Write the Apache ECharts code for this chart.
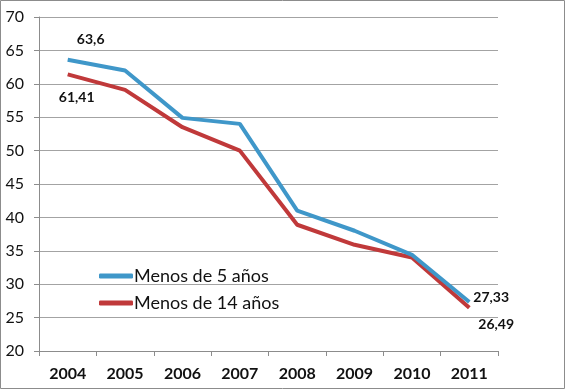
<!DOCTYPE html>
<html><head><meta charset="utf-8">
<script src="https://cdn.jsdelivr.net/npm/echarts@6/dist/echarts.min.js"></script>
<style>html,body{margin:0;padding:0;background:#fff}#c{width:565px;height:389px}</style>
</head><body><div id="c"></div>
<script>
const years = ['2004','2005','2006','2007','2008','2009','2010','2011'];
const menos5 = [63.6, 62.0, 54.9, 54.0, 41.0, 38.0, 34.4, 27.33];
const menos14 = [61.41, 59.1, 53.5, 50.0, 38.9, 35.9, 34.0, 26.49];
const yTicks = [20, 25, 30, 35, 40, 45, 50, 55, 60, 65, 70];
const seriesNames = ['Menos de 5 años', 'Menos de 14 años'];

const fmt = v => String(v).replace('.', ',');
const labelStyle = {fontFamily: 'Lato, "Open Sans", sans-serif', fontSize: 14, fontWeight: 'bold', color: '#111'};
function withLabels(arr, cfg) {
  return arr.map((v, i) => {
    if (cfg[i]) return {value: v, label: Object.assign({show: true, formatter: fmt(v)}, labelStyle, cfg[i])};
    return v;
  });
}

const chart = echarts.init(document.getElementById('c'), null, {renderer: 'canvas'});
chart.setOption({
  animation: false,
  backgroundColor: '#fff',
  graphic: [{type: 'rect', shape: {x: 0.5, y: 0.5, width: 564, height: 388}, style: {fill: 'none', stroke: '#8c8c8c', lineWidth: 1}, z: 100}],
  grid: {left: 39, right: 67, top: 17, bottom: 38},
  legend: {
    orient: 'vertical', left: 94, top: 262, itemGap: 9,
    icon: 'roundRect', itemWidth: 34, itemHeight: 5,
    textStyle: {fontFamily: 'Lato, "Open Sans", sans-serif', fontSize: 18, color: '#111', padding: [0, 0, 0, -4]},
    data: seriesNames
  },
  xAxis: {
    type: 'category', data: years, boundaryGap: true,
    axisLine: {lineStyle: {color: '#8c8c8c', width: 1}},
    axisTick: {show: true, length: 5, lineStyle: {color: '#8c8c8c'}},
    axisLabel: {margin: 15, fontFamily: 'Lato, "Open Sans", sans-serif', fontSize: 16, fontWeight: 'bold', color: '#111'}
  },
  yAxis: {
    type: 'value', min: yTicks[0], max: yTicks[yTicks.length - 1], interval: 5,
    axisLine: {show: true, lineStyle: {color: '#8c8c8c', width: 1}},
    axisTick: {show: true, length: 5, lineStyle: {color: '#8c8c8c'}},
    splitLine: {lineStyle: {color: '#a3a3a3', width: 1}},
    axisLabel: {margin: 15, fontFamily: 'Lato, "Open Sans", sans-serif', fontSize: 16, color: '#111'}
  },
  series: [
    {
      name: seriesNames[0], type: 'line', symbol: 'circle', symbolSize: 0, showSymbol: true, z: 3,
      lineStyle: {width: 4, color: '#3f97c9'}, itemStyle: {color: '#3f97c9'},
      data: withLabels(menos5, {0: {position: 'top', offset: [23, -8]}, 7: {position: 'right', offset: [-1, -5]}})
    },
    {
      name: seriesNames[1], type: 'line', symbol: 'circle', symbolSize: 0, showSymbol: true, z: 2,
      lineStyle: {width: 4, color: '#c0393a'}, itemStyle: {color: '#c0393a'},
      data: withLabels(menos14, {0: {position: 'bottom', offset: [9, 11]}, 7: {position: 'right', offset: [4, 17]}})
    }
  ]
});
</script></body></html>
